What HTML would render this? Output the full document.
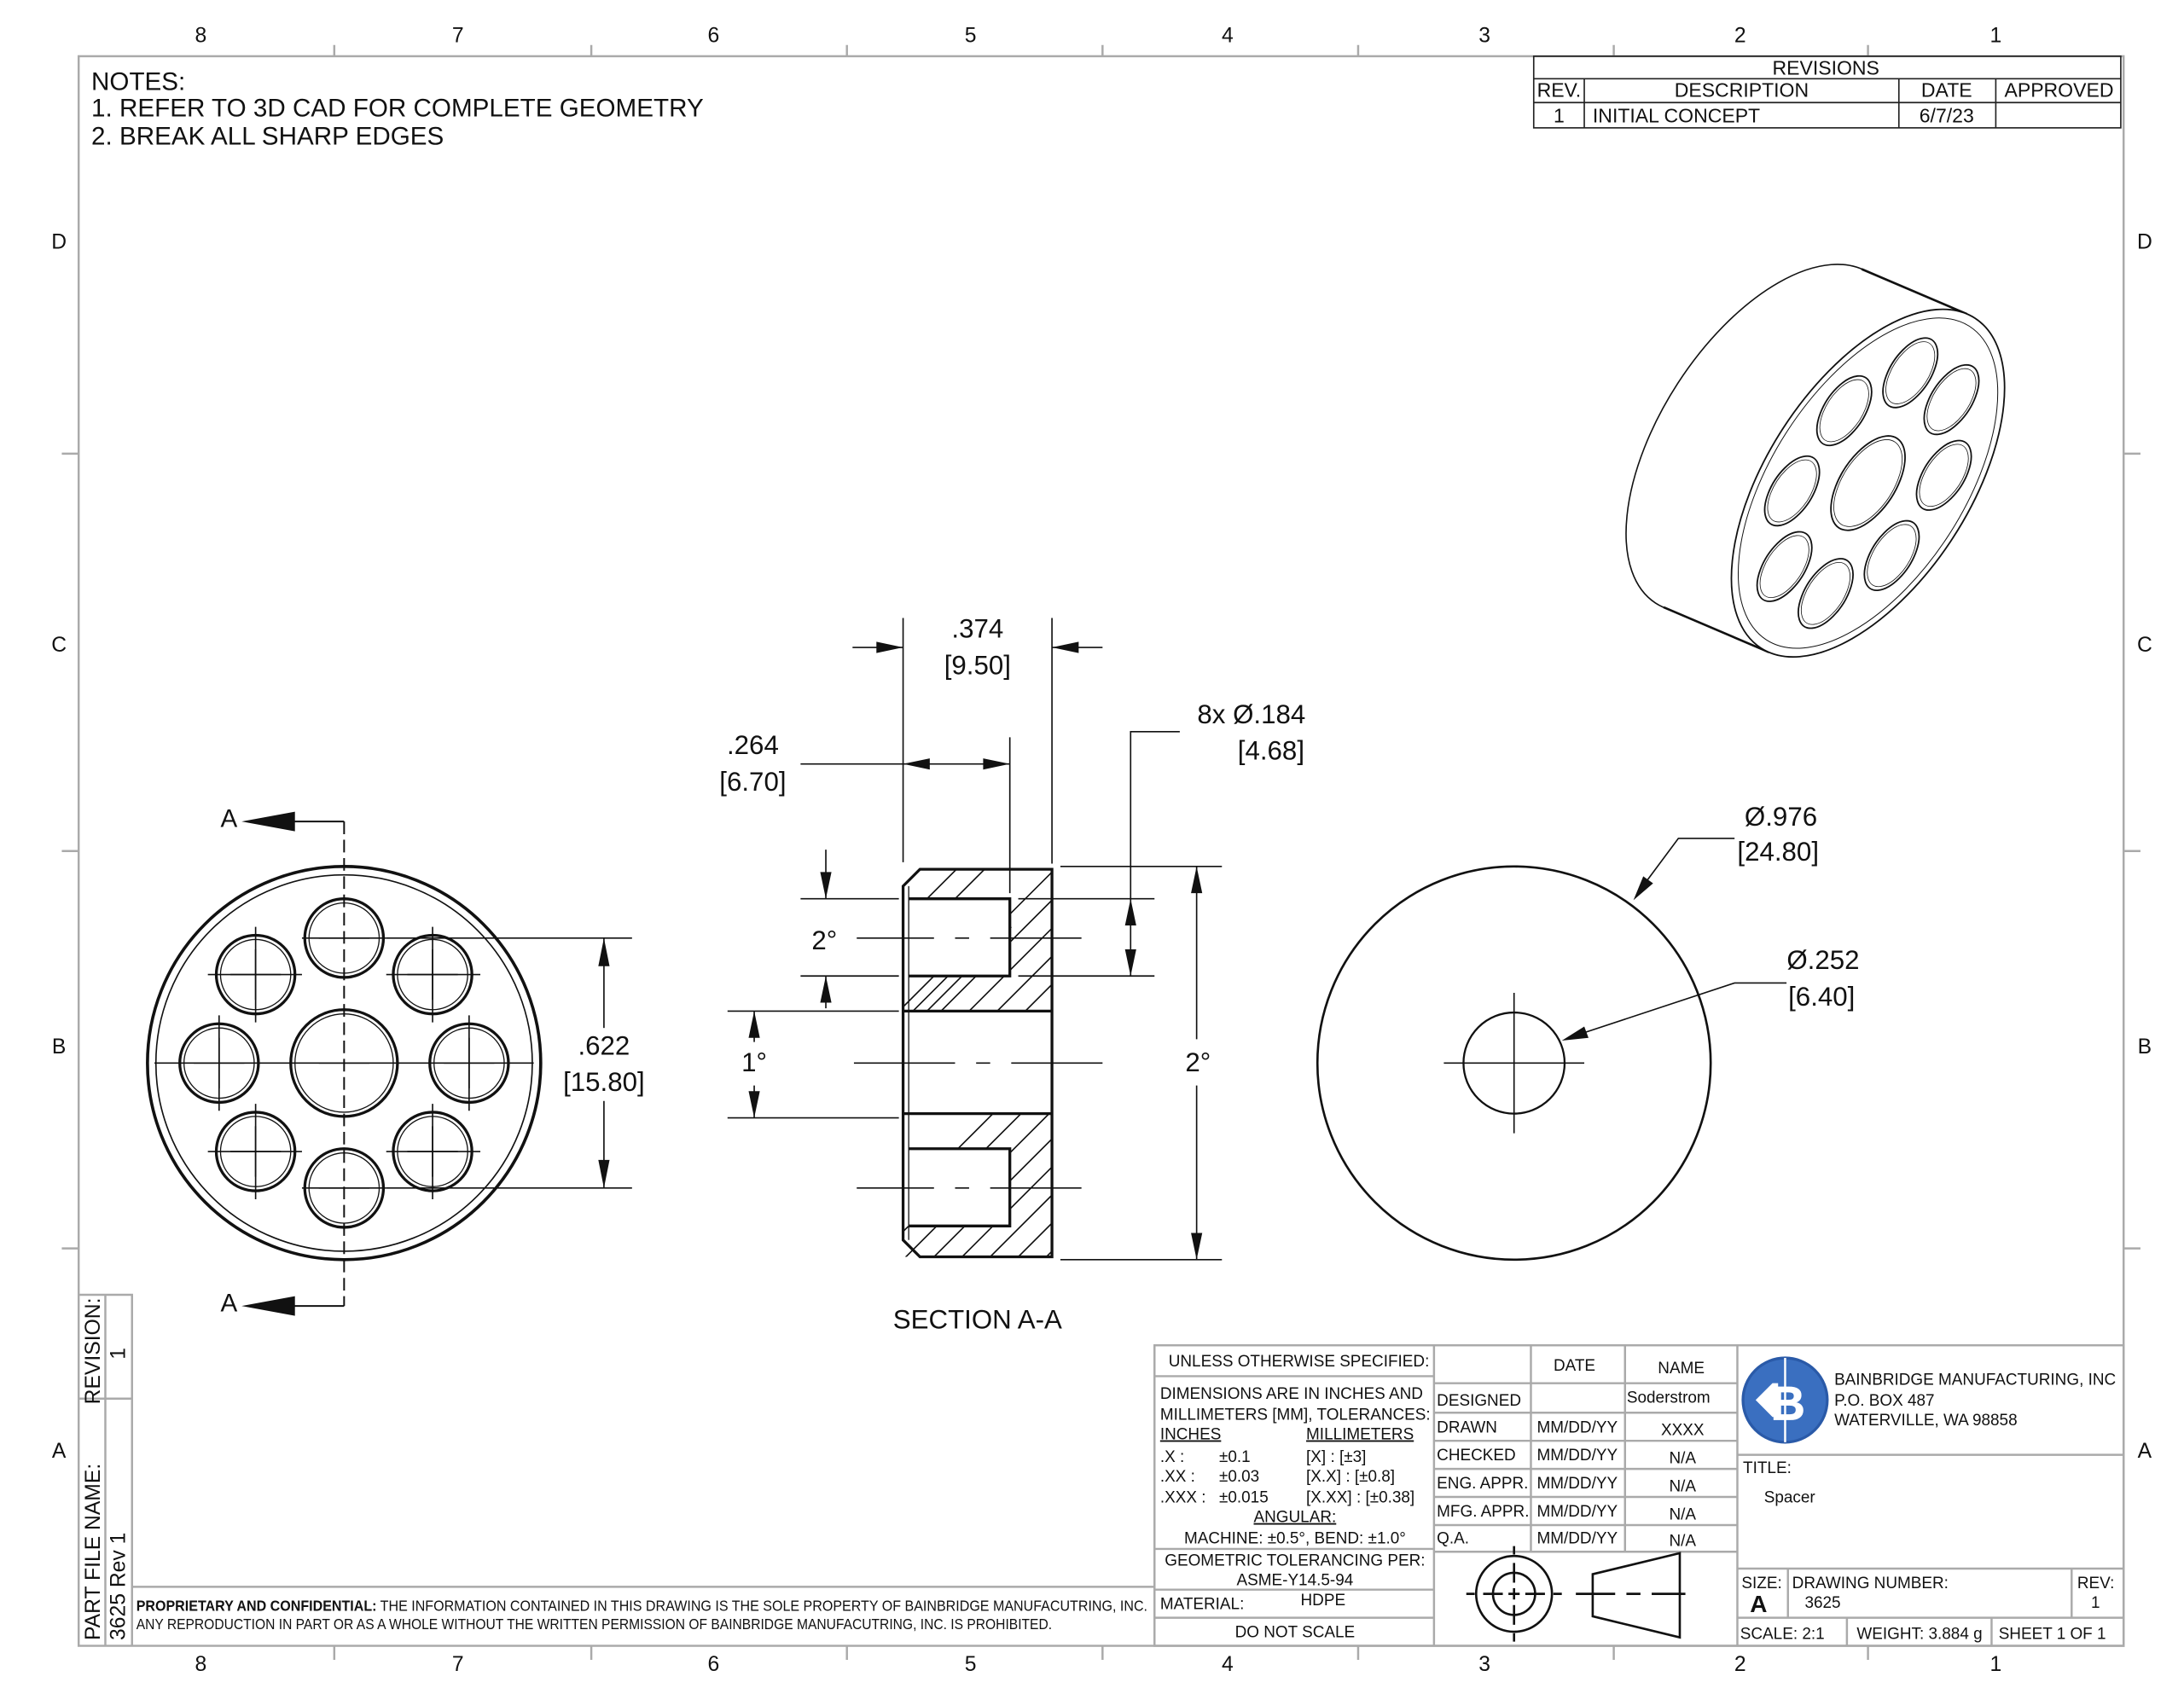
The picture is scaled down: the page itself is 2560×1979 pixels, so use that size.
<!DOCTYPE html>
<html><head><meta charset="utf-8"><style>
html,body{margin:0;padding:0;background:#fff}
svg{display:block}
text{font-family:"Liberation Sans",sans-serif;fill:#111}
</style></head><body>
<svg width="2560" height="1979" viewBox="0 0 1555 1202" xmlns="http://www.w3.org/2000/svg">
<defs>
<clipPath id="hc"><path clip-rule="evenodd" d="M643,619 H749 V720 H643 Z M643,640 H719 V695 H643 Z M643,793 H749 V895 H643 Z M643,818 H719 V873 H643 Z"/></clipPath>
</defs>
<rect width="1555" height="1202" fill="#fff"/>
<!-- frame -->
<g stroke="#aaa" fill="none" stroke-width="1.5">
<rect x="56" y="40" width="1456" height="1132"/>
<path d="M238,32V40M421,32V40M603,32V40M785,32V40M967,32V40M1149,32V40M1330,32V40M238,1172V1182M421,1172V1182M603,1172V1182M785,1172V1182M967,1172V1182M1149,1172V1182M1330,1172V1182M44,323H56M44,606H56M44,889H56M1512,323H1524M1512,606H1524M1512,889H1524"/>
</g>
<g font-size="15" text-anchor="middle" fill="#333">
<text x="143" y="30">8</text><text x="326" y="30">7</text><text x="508" y="30">6</text><text x="691" y="30">5</text><text x="874" y="30">4</text><text x="1057" y="30">3</text><text x="1239" y="30">2</text><text x="1421" y="30">1</text>
<text x="143" y="1190">8</text><text x="326" y="1190">7</text><text x="508" y="1190">6</text><text x="691" y="1190">5</text><text x="874" y="1190">4</text><text x="1057" y="1190">3</text><text x="1239" y="1190">2</text><text x="1421" y="1190">1</text>
<text x="42" y="177">D</text><text x="42" y="464">C</text><text x="42" y="750">B</text><text x="42" y="1038">A</text>
<text x="1527" y="177">D</text><text x="1527" y="464">C</text><text x="1527" y="750">B</text><text x="1527" y="1038">A</text>
</g>
<!-- notes -->
<g font-size="18">
<text x="65" y="64">NOTES:</text>
<text x="65" y="83">1.  REFER TO 3D CAD FOR COMPLETE GEOMETRY</text>
<text x="65" y="103">2.  BREAK ALL SHARP EDGES</text>
</g>
<!-- revisions -->
<g stroke="#222" fill="none" stroke-width="1">
<rect x="1092" y="40" width="418" height="51"/>
<path d="M1092,56H1510M1092,73H1510M1128,56V91M1352,56V91M1421,56V91"/>
</g>
<g font-size="14" text-anchor="middle">
<text x="1300" y="53">REVISIONS</text>
<text x="1110" y="69">REV.</text><text x="1240" y="69">DESCRIPTION</text><text x="1386" y="69">DATE</text><text x="1466" y="69">APPROVED</text>
<text x="1110" y="87">1</text><text x="1134" y="87" text-anchor="start">INITIAL CONCEPT</text><text x="1386" y="87">6/7/23</text>
</g>

<!-- LEFT VIEW -->
<g stroke="#111" fill="none">
<circle cx="245" cy="757" r="140" stroke-width="2.2"/>
<circle cx="245" cy="757" r="134" stroke-width="1"/>
<circle cx="245" cy="757" r="38" stroke-width="2"/>
<circle cx="245" cy="757" r="35" stroke-width="0.8"/>
<g stroke-width="2">
<circle cx="245" cy="668" r="28"/><circle cx="308" cy="694" r="28"/><circle cx="334" cy="757" r="28"/><circle cx="308" cy="820" r="28"/>
<circle cx="245" cy="846" r="28"/><circle cx="182" cy="820" r="28"/><circle cx="156" cy="757" r="28"/><circle cx="182" cy="694" r="28"/>
</g>
<g stroke-width="0.8">
<circle cx="245" cy="668" r="25"/><circle cx="308" cy="694" r="25"/><circle cx="334" cy="757" r="25"/><circle cx="308" cy="820" r="25"/>
<circle cx="245" cy="846" r="25"/><circle cx="182" cy="820" r="25"/><circle cx="156" cy="757" r="25"/><circle cx="182" cy="694" r="25"/>
</g>
<g stroke-width="1">
<path d="M110,757H380"/>
<path d="M227,668H263M290,694H326M316,757H352M290,820H326M227,846H263M164,820H200M138,757H174M164,694H200M227,757H263"/>
<path d="M308,676V712M334,739V775M308,802V838M182,802V838M156,739V775M182,676V712"/>
<path d="M148,694H215M275,694H342M148,820H215M275,820H342M215,668H275M215,846H275"/>
<path d="M308,660V728M182,660V728M308,786V854M182,786V854M334,723V791M156,723V791"/>
</g>
<path d="M245,585V930" stroke-width="1.2" stroke-dasharray="9,4"/>
<path d="M245,585H205M245,930H205" stroke-width="1.2"/>
<path d="M275,668H450M275,846H450" stroke-width="1"/>
<path d="M430,668V846" stroke-width="1"/>
</g>
<rect x="410" y="732" width="40" height="52" fill="#fff"/>
<g fill="#111">
<polygon points="172,585 210,578 210,592"/><polygon points="172,930 210,923 210,937"/>
<polygon points="430,668 426,688 434,688"/><polygon points="430,846 426,826 434,826"/>
</g>
<text x="163" y="589" font-size="18" text-anchor="middle">A</text>
<text x="163" y="934" font-size="18" text-anchor="middle">A</text>
<text x="430" y="751" font-size="19" text-anchor="middle">.622</text>
<text x="430" y="777" font-size="19" text-anchor="middle">[15.80]</text>

<!-- SECTION VIEW -->
<g clip-path="url(#hc)" stroke="#111" stroke-width="1">
<path d="M600,700L700,600M620,700L720,600M640,730L760,610M660,730L770,620M680,730L780,630M700,730L800,630M720,730L820,630M740,730L840,630M760,730L860,630M600,760L700,660M620,760L720,660
M600,900L720,780M620,900L740,780M640,900L760,780M660,900L780,780M680,900L800,780M700,900L820,780M720,900L840,780M740,900L860,780M760,900L880,780"/>
</g>
<g stroke="#111" fill="none">
<path d="M655,619H749V895H655L643,883V631Z" stroke-width="2"/>
<path d="M647,631V883" stroke-width="0.8"/>
<path d="M647,640H719V695H647M647,818H719V873H647" stroke-width="2"/>
<path d="M643,720H749M643,793H749" stroke-width="2"/>
<g stroke-width="1">
<path d="M610,668H665M680,668H690M705,668H770"/>
<path d="M608,757H680M695,757H705M720,757H785"/>
<path d="M610,846H665M680,846H690M705,846H770"/>
<path d="M643,440V614M749,440V615M719,525V636"/>
<path d="M607,461H643M749,461H785"/>
<path d="M570,544H719"/>
<path d="M840,521H805V695M725,640H822M725,695H822"/>
<path d="M755,617H870M755,897H870M852,617V740M852,773V897"/>
<path d="M570,640H640M570,695H640M588,605V640M588,695V718"/>
<path d="M518,720H640M518,796H640M537,720V742M537,773V796"/>
</g>
</g>
<g fill="#111">
<polygon points="643,461 624,457 624,465"/><polygon points="749,461 768,457 768,465"/>
<polygon points="643,544 662,540 662,548"/><polygon points="719,544 700,540 700,548"/>
<polygon points="805,640 801,659 809,659"/><polygon points="805,695 801,676 809,676"/>
<polygon points="852,617 848,636 856,636"/><polygon points="852,897 848,878 856,878"/>
<polygon points="588,640 584,621 592,621"/><polygon points="588,695 584,714 592,714"/>
<polygon points="537,720 533,739 541,739"/><polygon points="537,796 533,777 541,777"/>
</g>
<g font-size="19" text-anchor="middle">
<text x="696" y="454">.374</text><text x="696" y="480">[9.50]</text>
<text x="536" y="537">.264</text><text x="536" y="563">[6.70]</text>
<text x="891" y="515">8x Ø.184</text><text x="905" y="541">[4.68]</text>
<text x="587" y="676">2°</text><text x="537" y="763">1°</text><text x="853" y="763">2°</text>
<text x="696" y="946">SECTION A-A</text>
</g>

<!-- RIGHT VIEW -->
<g stroke="#111" fill="none">
<circle cx="1078" cy="757" r="140" stroke-width="1.6"/>
<circle cx="1078" cy="757" r="36" stroke-width="1.4"/>
<path d="M1028,757H1128M1078,707V807M1068,757H1088" stroke-width="1"/>
<path d="M1166,636L1195,597H1235" stroke-width="1"/>
<path d="M1126,736L1235,700H1272" stroke-width="1"/>
</g>
<g fill="#111">
<polygon points="1163,641 1170,624 1177,629"/>
<polygon points="1112,741 1128,731 1131,739"/>
</g>
<g font-size="19" text-anchor="middle">
<text x="1268" y="588">Ø.976</text><text x="1266" y="613">[24.80]</text>
<text x="1298" y="690">Ø.252</text><text x="1297" y="716">[6.40]</text>
</g>

<!-- ISO VIEW -->
<g stroke="#111" fill="#fff">
<g transform="translate(1255,312) rotate(33) scale(0.514,1)"><circle r="140" vector-effect="non-scaling-stroke" stroke-width="1.6"/></g>
<polygon points="1184.5,432.4 1325.5,191.6 1400.5,223.6 1259.5,464.4" stroke="none"/>
<path d="M1184.5,432.4L1259.5,464.4M1325.5,191.6L1400.5,223.6" stroke-width="1.6" fill="none"/>
<g transform="translate(1330,344) rotate(33) scale(0.514,1)" fill="#fff">
<circle r="140" vector-effect="non-scaling-stroke" stroke-width="1.8"/>
<circle r="133" vector-effect="non-scaling-stroke" stroke-width="1" fill="none"/>
<g transform="rotate(22.5)" fill="none">
<circle r="38" vector-effect="non-scaling-stroke" stroke-width="1.8"/>
<circle r="35" vector-effect="non-scaling-stroke" stroke-width="0.8"/>
<circle cx="0" cy="-89" r="28" vector-effect="non-scaling-stroke" stroke-width="1.8"/><circle cx="63" cy="-63" r="28" vector-effect="non-scaling-stroke" stroke-width="1.8"/>
<circle cx="89" cy="0" r="28" vector-effect="non-scaling-stroke" stroke-width="1.8"/><circle cx="63" cy="63" r="28" vector-effect="non-scaling-stroke" stroke-width="1.8"/>
<circle cx="0" cy="89" r="28" vector-effect="non-scaling-stroke" stroke-width="1.8"/><circle cx="-63" cy="63" r="28" vector-effect="non-scaling-stroke" stroke-width="1.8"/>
<circle cx="-89" cy="0" r="28" vector-effect="non-scaling-stroke" stroke-width="1.8"/><circle cx="-63" cy="-63" r="28" vector-effect="non-scaling-stroke" stroke-width="1.8"/>
<circle cx="0" cy="-89" r="25" vector-effect="non-scaling-stroke" stroke-width="0.8"/><circle cx="63" cy="-63" r="25" vector-effect="non-scaling-stroke" stroke-width="0.8"/>
<circle cx="89" cy="0" r="25" vector-effect="non-scaling-stroke" stroke-width="0.8"/><circle cx="63" cy="63" r="25" vector-effect="non-scaling-stroke" stroke-width="0.8"/>
<circle cx="0" cy="89" r="25" vector-effect="non-scaling-stroke" stroke-width="0.8"/><circle cx="-63" cy="63" r="25" vector-effect="non-scaling-stroke" stroke-width="0.8"/>
<circle cx="-89" cy="0" r="25" vector-effect="non-scaling-stroke" stroke-width="0.8"/><circle cx="-63" cy="-63" r="25" vector-effect="non-scaling-stroke" stroke-width="0.8"/>
</g>
</g>
</g>

<!-- left strip -->
<g stroke="#aaa" fill="none" stroke-width="1.5">
<path d="M56,922H94V1172M75,922V1172M56,996H94M94,1130H822"/>
</g>
<g font-size="15" fill="#333">
<text transform="translate(71,1000) rotate(-90)">REVISION:</text>
<text transform="translate(89,968) rotate(-90)">1</text>
<text transform="translate(71,1168) rotate(-90)">PART FILE NAME:</text>
<text transform="translate(89,1168) rotate(-90)">3625 Rev 1</text>
</g>
<g font-size="10.5">
<text x="97" y="1147" textLength="720" lengthAdjust="spacingAndGlyphs"><tspan font-weight="bold">PROPRIETARY AND CONFIDENTIAL:</tspan> THE INFORMATION CONTAINED IN THIS DRAWING IS THE SOLE PROPERTY OF BAINBRIDGE MANUFACUTRING, INC.</text>
<text x="97" y="1160" textLength="652" lengthAdjust="spacingAndGlyphs">ANY REPRODUCTION IN PART OR AS A WHOLE WITHOUT THE WRITTEN PERMISSION OF BAINBRIDGE MANUFACUTRING, INC. IS PROHIBITED.</text>
</g>

<!-- TITLE BLOCK -->
<g stroke="#aaa" fill="none" stroke-width="1.5">
<rect x="822" y="958" width="690" height="214"/>
<path d="M1021,958V1172M1237,958V1172M1090,958V1105M1157,958V1105"/>
<path d="M822,980H1021M822,1103H1021M822,1132H1021M822,1152H1021"/>
<path d="M1021,985H1237M1021,1006H1237M1021,1026H1237M1021,1046H1237M1021,1066H1237M1021,1086H1237M1021,1105H1237"/>
<path d="M1237,1036H1512M1237,1117H1512M1237,1152H1512M1273,1117V1152M1475,1117V1152M1315,1152V1172M1418,1152V1172"/>
</g>
<g font-size="11.5">
<text x="832" y="973">UNLESS OTHERWISE SPECIFIED:</text>
<text x="826" y="996">DIMENSIONS ARE IN INCHES AND</text>
<text x="826" y="1011">MILLIMETERS [MM], TOLERANCES:</text>
<text x="826" y="1025" text-decoration="underline">INCHES</text><text x="930" y="1025" text-decoration="underline">MILLIMETERS</text>
<text x="826" y="1041">.X :</text><text x="868" y="1041">±0.1</text><text x="930" y="1041">[X]     : [±3]</text>
<text x="826" y="1055">.XX :</text><text x="868" y="1055">±0.03</text><text x="930" y="1055">[X.X]   : [±0.8]</text>
<text x="826" y="1070">.XXX :</text><text x="868" y="1070">±0.015</text><text x="930" y="1070">[X.XX] : [±0.38]</text>
<text x="922" y="1084" text-anchor="middle" text-decoration="underline">ANGULAR:</text>
<text x="922" y="1099" text-anchor="middle">MACHINE: ±0.5°, BEND: ±1.0°</text>
<text x="922" y="1115" text-anchor="middle">GEOMETRIC TOLERANCING PER:</text>
<text x="922" y="1129" text-anchor="middle">ASME-Y14.5-94</text>
<text x="826" y="1146">MATERIAL:</text><text x="942" y="1143" text-anchor="middle">HDPE</text>
<text x="922" y="1166" text-anchor="middle">DO NOT SCALE</text>
<text x="1121" y="976" text-anchor="middle">DATE</text><text x="1197" y="978" text-anchor="middle">NAME</text>
<text x="1023" y="1001">DESIGNED</text><text x="1188" y="999" text-anchor="middle">Soderstrom</text>
<text x="1023" y="1020">DRAWN</text><text x="1123" y="1020" text-anchor="middle">MM/DD/YY</text><text x="1198" y="1022" text-anchor="middle">XXXX</text>
<text x="1023" y="1040">CHECKED</text><text x="1123" y="1040" text-anchor="middle">MM/DD/YY</text><text x="1198" y="1042" text-anchor="middle">N/A</text>
<text x="1023" y="1060">ENG. APPR.</text><text x="1123" y="1060" text-anchor="middle">MM/DD/YY</text><text x="1198" y="1062" text-anchor="middle">N/A</text>
<text x="1023" y="1080">MFG. APPR.</text><text x="1123" y="1080" text-anchor="middle">MM/DD/YY</text><text x="1198" y="1082" text-anchor="middle">N/A</text>
<text x="1023" y="1099">Q.A.</text><text x="1123" y="1099" text-anchor="middle">MM/DD/YY</text><text x="1198" y="1101" text-anchor="middle">N/A</text>
<text x="1306" y="986">BAINBRIDGE MANUFACTURING, INC</text>
<text x="1306" y="1001">P.O. BOX 487</text>
<text x="1306" y="1015">WATERVILLE, WA 98858</text>
<text x="1241" y="1049">TITLE:</text>
<text x="1256" y="1070">Spacer</text>
<text x="1240" y="1131">SIZE:</text><text x="1276" y="1131">DRAWING NUMBER:</text><text x="1479" y="1131">REV:</text>
<text x="1285" y="1145">3625</text><text x="1492" y="1145" text-anchor="middle">1</text>
<text x="1239" y="1167">SCALE: 2:1</text><text x="1322" y="1167">WEIGHT: 3.884 g</text><text x="1423" y="1167">SHEET 1 OF 1</text>
</g>
<text x="1246" y="1148" font-size="17" font-weight="bold">A</text>
<!-- symbols -->
<g stroke="#111" fill="none" stroke-width="1.6">
<circle cx="1078" cy="1135" r="27"/><circle cx="1078" cy="1135" r="15"/>
<path d="M1044,1135H1050M1056,1135H1070M1074,1135H1082M1086,1135H1100M1106,1135H1112M1078,1101V1107M1078,1113V1127M1078,1131V1139M1078,1143V1157M1078,1163V1169"/>
<path d="M1134,1121L1196,1106V1166L1134,1151Z"/>
<path d="M1122,1135H1150M1158,1135H1168M1176,1135H1200"/>
</g>
<!-- logo -->
<circle cx="1271" cy="997" r="30" fill="#3a6fc0" stroke="#2a5aa8" stroke-width="2"/>
<line x1="1271" y1="967" x2="1271" y2="1027" stroke="#fff" stroke-width="1.5"/>
<text x="1273" y="1011" font-size="34" font-weight="bold" text-anchor="middle" stroke="#fff" stroke-width="0.5" style="fill:#fff">B</text>
<polygon points="1250,997 1262,985 1266,985 1266,1009 1262,1009" fill="#fff"/>
</svg>
</body></html>
